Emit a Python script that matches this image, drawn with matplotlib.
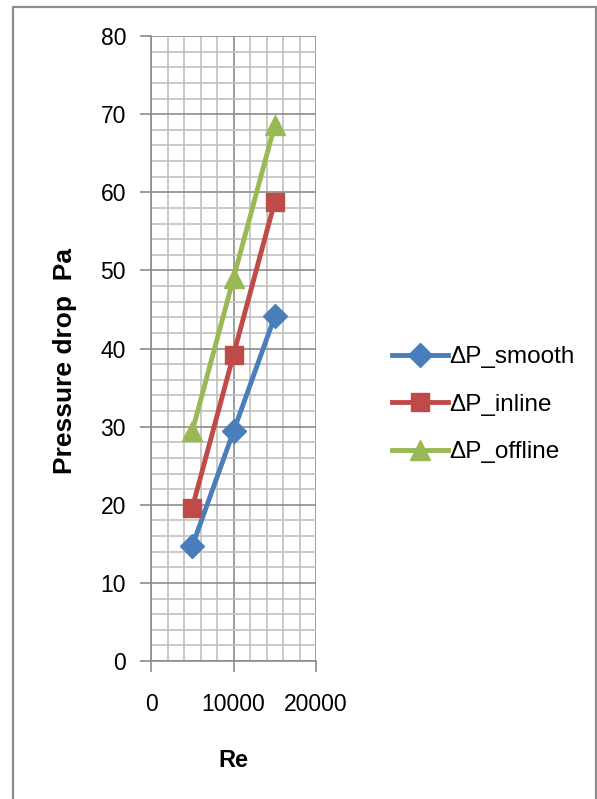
import matplotlib.pyplot as plt
from matplotlib.patches import Rectangle
from matplotlib.ticker import MultipleLocator

re_vals = [5000, 10000, 15000]
dp_smooth = [14.7, 29.4, 44.1]
dp_inline = [19.6, 39.2, 58.8]
dp_offline = [29.4, 49.0, 68.6]

plt.rcParams['font.family'] = ['Liberation Sans', 'DejaVu Sans']

fig = plt.figure(figsize=(5.97, 7.99), dpi=100)
# outer chart frame
fig.patches.append(Rectangle((13/597, -0.01), (596-13)/597, 1 - 7/799 + 0.01, transform=fig.transFigure,
                             fill=False, edgecolor='#8c8c8c', linewidth=1.6))
ax = fig.add_axes([151/597, 1-661/799, (316-151)/597, (661-36)/799])

ax.plot(re_vals, dp_smooth, color='#4a7ebb', lw=3.5, marker='D', ms=12, label='ΔP_smooth', zorder=5)
ax.plot(re_vals, dp_inline, color='#be4b48', lw=3.5, marker='s', ms=13, label='ΔP_inline', zorder=5)
ax.plot(re_vals, dp_offline, color='#98b954', lw=3.5, marker='^', ms=14, label='ΔP_offline', zorder=5)

ax.set_xlim(0, 20000)
ax.set_ylim(0, 80)
ax.xaxis.set_major_locator(MultipleLocator(10000))
ax.xaxis.set_minor_locator(MultipleLocator(2000))
ax.yaxis.set_major_locator(MultipleLocator(10))
ax.yaxis.set_minor_locator(MultipleLocator(2))
ax.grid(which='major', color='#8c8c8c', lw=1.2)
ax.grid(which='minor', color='#c0c0c0', lw=1.2)
ax.set_axisbelow(True)
for s in ['top', 'right']:
    ax.spines[s].set_visible(False)
for s in ['left', 'bottom']:
    ax.spines[s].set_color('#8c8c8c')
    ax.spines[s].set_linewidth(1.2)
ax.tick_params(which='major', length=8, width=1.2, color='#8c8c8c', labelsize=16.5, pad=10)
ax.tick_params(which='minor', length=0)
ax.tick_params(axis='x', pad=15)

ax.set_xlabel('Re', fontsize=17, fontweight='bold', labelpad=24)
ax.set_ylabel('Pressure drop  Pa', fontsize=19, fontweight='bold', va='center')
ax.yaxis.set_label_coords(-0.52, 0.48)

ax.legend(loc='center left', bbox_to_anchor=(1.33, 0.41), frameon=False,
          handlelength=2.3, handletextpad=0.05, labelspacing=1.05,
          prop={'family': 'Liberation Sans', 'size': 17.5})

fig.savefig('out.png', dpi=100)
